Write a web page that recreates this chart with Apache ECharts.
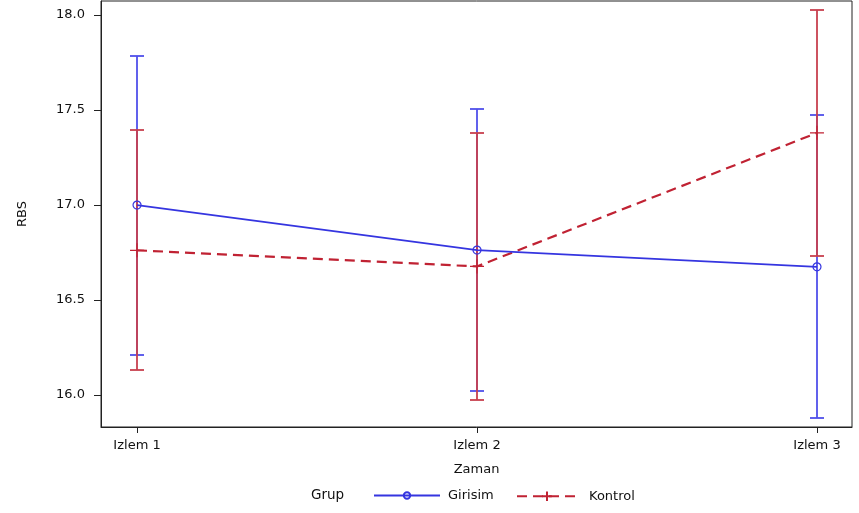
<!DOCTYPE html>
<html>
<head>
<meta charset="utf-8">
<script src="https://cdn.jsdelivr.net/npm/echarts@6/dist/echarts.min.js"></script>
<style>html,body{margin:0;padding:0;background:#fff}#c{width:859px;height:513px}</style>
</head>
<body>
<div id="c"></div>
<script>
const categories = ['Izlem 1', 'Izlem 2', 'Izlem 3'];
const girisimMean = [17.00, 16.763, 16.675];
const girisimLow = [16.212, 16.022, 15.878];
const girisimHigh = [17.786, 17.508, 17.474];
const kontrolMean = [16.762, 16.677, 17.380];
const kontrolLow = [16.132, 15.976, 16.733];
const kontrolHigh = [17.394, 17.377, 18.027];
const yTicks = [16.0, 16.5, 17.0, 17.5, 18.0];

const BLUE = '#3535e0';
const RED = '#c02233';
const BLUE_ERR = '#5050ea';
const RED_ERR = '#c8404f';
const FONT = '"DejaVu Sans", Verdana, sans-serif';
const TXT = '#111';
const xPos = categories.map((c, i) => i + 1);

function errData(lo, hi) { return xPos.map((x, i) => [x, lo[i], hi[i]]); }
function meanData(m) { return xPos.map((x, i) => [x, m[i]]); }
function errRender(color) {
  return function (params, api) {
    const x = api.value(0), lo = api.value(1), hi = api.value(2);
    const p1 = api.coord([x, hi]), p2 = api.coord([x, lo]);
    const px = Math.round(p1[0]);
    const yTop = Math.round(p1[1]), yBot = Math.round(p2[1]);
    const w = 7;
    const st = { stroke: color, lineWidth: 1.8 };
    return {
      type: 'group',
      children: [
        { type: 'line', shape: { x1: px, y1: yTop, x2: px, y2: yBot }, style: st },
        { type: 'line', shape: { x1: px - w, y1: yTop, x2: px + w, y2: yTop }, style: st },
        { type: 'line', shape: { x1: px - w, y1: yBot, x2: px + w, y2: yBot }, style: st }
      ]
    };
  };
}

const chart = echarts.init(document.getElementById('c'), null, { renderer: 'canvas' });
chart.setOption({
  animation: false,
  backgroundColor: '#fff',
  textStyle: { fontFamily: FONT },
  grid: { left: 101, top: 1, right: 7, bottom: 86, show: true, borderColor: '#222', borderWidth: 1, backgroundColor: 'transparent' },
  xAxis: {
    type: 'value', min: 0.894, max: 3.103,
    axisLine: { show: true, lineStyle: { color: '#222' } },
    axisTick: { show: true, length: 6, customValues: xPos, lineStyle: { color: '#222' } },
    axisLabel: { customValues: xPos, formatter: v => categories[Math.round(v) - 1] || '', color: TXT, fontSize: 13, fontFamily: FONT, margin: 12 },
    splitLine: { show: false },
    name: 'Zaman', nameLocation: 'middle', nameGap: 36,
    nameTextStyle: { color: TXT, fontSize: 13, fontFamily: FONT }
  },
  yAxis: {
    type: 'value', min: 15.832, max: 18.074,
    axisLine: { show: true, lineStyle: { color: '#222' } },
    axisTick: { show: true, length: 7, customValues: yTicks, lineStyle: { color: '#222' } },
    axisLabel: { customValues: yTicks, formatter: v => v.toFixed(1), color: TXT, fontSize: 13, fontFamily: FONT, margin: 16 },
    splitLine: { show: false },
    name: 'RBS', nameLocation: 'middle', nameGap: 72, nameRotate: 90,
    nameTextStyle: { color: TXT, fontSize: 13, fontFamily: FONT }
  },
  legend: [
    {
      left: 368, top: 484, itemWidth: 66, itemHeight: 8, itemGap: 0,
      textStyle: { color: TXT, fontSize: 13, fontFamily: FONT, padding: [0, 0, 0, 3] },
      data: ['Girisim']
    },
    {
      left: 511, top: 484, itemWidth: 60, itemHeight: 12, itemGap: 0,
      textStyle: { color: TXT, fontSize: 13, fontFamily: FONT, padding: [0, 0, 0, 7] },
      data: ['Kontrol']
    }
  ],
  graphic: [{ type: 'text', left: 311, top: 488, style: { text: 'Grup', fill: TXT, font: '13.5px ' + FONT } }],
  series: [
    { type: 'custom', name: 'GirisimErr', renderItem: errRender(BLUE_ERR), data: errData(girisimLow, girisimHigh), encode: { x: 0, y: [1, 2] }, z: 1, silent: true },
    { type: 'custom', name: 'KontrolErr', renderItem: errRender(RED_ERR), data: errData(kontrolLow, kontrolHigh), encode: { x: 0, y: [1, 2] }, z: 2, silent: true },
    {
      type: 'line', name: 'Girisim', data: meanData(girisimMean), z: 4,
      symbol: 'circle', symbolSize: 8, showAllSymbol: true,
      lineStyle: { color: BLUE, width: 1.8 },
      itemStyle: { color: 'rgba(0,0,0,0)', borderColor: BLUE, borderWidth: 1.2 }
    },
    {
      type: 'line', name: 'Kontrol', data: meanData(kontrolMean), z: 3,
      symbol: 'path://M-7,0L7,0M0,-7L0,7', symbolSize: 14, showAllSymbol: true,
      lineStyle: { color: RED, width: 2.2, type: [10, 6] },
      itemStyle: { color: 'none', borderColor: RED, borderWidth: 1.2 }
    }
  ]
});
</script>
</body>
</html>
